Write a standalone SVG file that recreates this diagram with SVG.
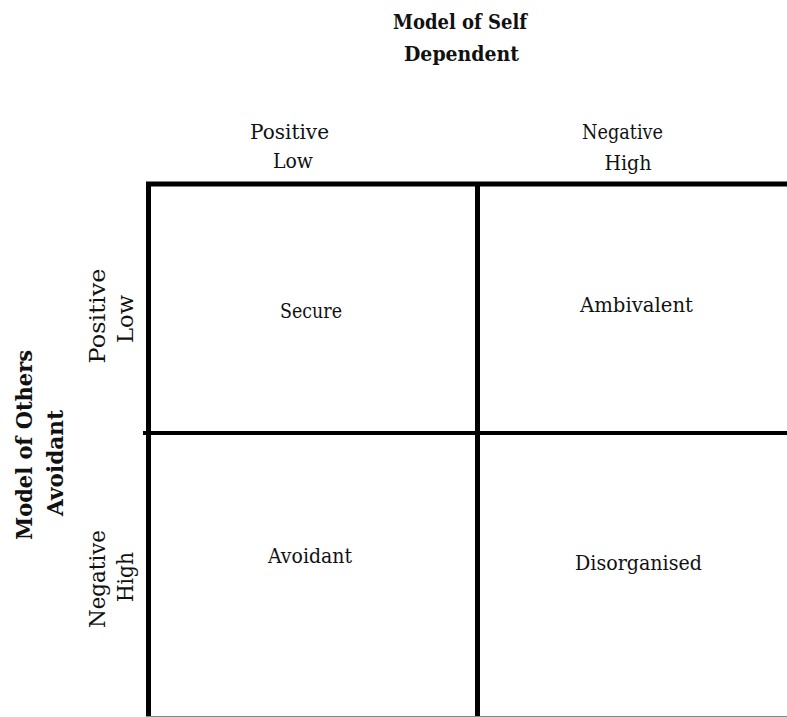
<svg xmlns="http://www.w3.org/2000/svg" width="787" height="717" viewBox="0 0 787 717">
<style>
.t{font-family:"DejaVu Serif","Liberation Serif",serif;font-size:20px;fill:#111;text-anchor:middle}
.b{font-weight:bold;font-size:20px}
.r{font-size:22px}
.rb{font-weight:bold;font-size:23px}
.ln{stroke:#000;stroke-width:5;fill:none}
</style>
<rect width="787" height="717" fill="#fff"/>
<g id="connectors">
<line class="ln" x1="146" y1="184" x2="787" y2="184"/>
<line class="ln" x1="148.5" y1="182" x2="148.5" y2="717"/>
<line class="ln" x1="477.5" y1="182" x2="477.5" y2="717"/>
<line class="ln" x1="143" y1="433" x2="787" y2="433" style="stroke-width:4"/>
<line x1="146" y1="716.5" x2="787" y2="716.5" stroke="#888" stroke-width="1"/>
</g>
<g id="title-self">
<text class="t b" x="460" y="29" textLength="134" lengthAdjust="spacingAndGlyphs">Model of Self</text>
<text class="t b" x="461.5" y="61" textLength="115" lengthAdjust="spacingAndGlyphs">Dependent</text>
</g>
<g id="col-positive">
<text class="t" x="289.5" y="139" textLength="79" lengthAdjust="spacingAndGlyphs">Positive</text>
<text class="t" x="293" y="168" textLength="40" lengthAdjust="spacingAndGlyphs">Low</text>
</g>
<g id="col-negative">
<text class="t" x="622.5" y="139" textLength="81" lengthAdjust="spacingAndGlyphs">Negative</text>
<text class="t" x="628" y="170" textLength="47" lengthAdjust="spacingAndGlyphs">High</text>
</g>
<g id="title-others">
<text class="t rb" transform="translate(32,445) rotate(-90)" textLength="190" lengthAdjust="spacingAndGlyphs">Model of Others</text>
<text class="t rb" transform="translate(63,463) rotate(-90)" textLength="106" lengthAdjust="spacingAndGlyphs">Avoidant</text>
</g>
<g id="row-positive">
<text class="t r" transform="translate(105,316) rotate(-90)" textLength="95" lengthAdjust="spacingAndGlyphs">Positive</text>
<text class="t r" transform="translate(133,319) rotate(-90)" textLength="48" lengthAdjust="spacingAndGlyphs">Low</text>
</g>
<g id="row-negative">
<text class="t r" transform="translate(105,579) rotate(-90)" textLength="98" lengthAdjust="spacingAndGlyphs">Negative</text>
<text class="t r" transform="translate(133,577) rotate(-90)" textLength="50" lengthAdjust="spacingAndGlyphs">High</text>
</g>
<g id="cell-secure">
<text class="t" x="311" y="318" textLength="62" lengthAdjust="spacingAndGlyphs">Secure</text>
</g>
<g id="cell-ambivalent">
<text class="t" x="636.5" y="311.5" textLength="113" lengthAdjust="spacingAndGlyphs">Ambivalent</text>
</g>
<g id="cell-avoidant">
<text class="t" x="310" y="563" textLength="84" lengthAdjust="spacingAndGlyphs">Avoidant</text>
</g>
<g id="cell-disorganised">
<text class="t" x="638.5" y="570" textLength="127" lengthAdjust="spacingAndGlyphs">Disorganised</text>
</g>
</svg>
